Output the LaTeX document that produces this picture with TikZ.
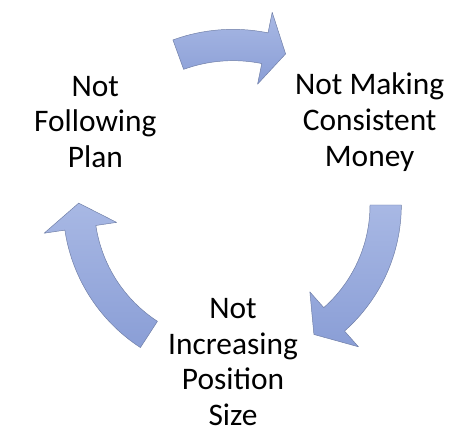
\documentclass[tikz,border=0pt]{standalone}
\usepackage{fontspec}
\setmainfont{Carlito}
\definecolor{arrowtop}{RGB}{168,184,228}
\definecolor{arrowbot}{RGB}{138,158,214}
\definecolor{arrowline}{RGB}{110,125,165}
\usetikzlibrary{positioning}
\tikzset{
  cyclearrow/.style={draw=arrowline, line width=0.4pt, top color=arrowtop, bottom color=arrowbot, line join=round},
  cyclelabel/.style={align=center, font=\fontsize{26.8}{30.6}\selectfont, text=black, inner sep=0pt}
}

\begin{document}
\begin{tikzpicture}
  \useasboundingbox (-6.99,-6.81) rectangle (7.23,6.15);

  % curved arrows: start angle / head base / tip / radius
  \foreach \sa/\hb/\tp/\rr in {110/78.5/70.8/4.8, 0/-48.5/-58/4.58, 237/188.5/179.3/4.63}{
    \draw[cyclearrow] (\sa:{\rr+0.47})
      arc[start angle=\sa, end angle=\hb, radius={(\rr+0.47)*1cm}]
      -- (\hb:{\rr+1.1}) -- (\tp:\rr) -- (\hb:{\rr-1.1})
      -- (\hb:{\rr-0.47})
      arc[start angle=\hb, end angle=\sa, radius={(\rr-0.47)*1cm}]
      -- cycle;
  }

  \node[cyclelabel] (plan) at (-4.13,2.49) {Not\\Following\\Plan};
  \node[cyclelabel] (money) at (4.1,2.49) {Not Making\\Consistent\\Money};
  \node[cyclelabel] (size) at (0,-4.71) {Not\\Increasing\\Position\\Size};
\end{tikzpicture}
\end{document}
